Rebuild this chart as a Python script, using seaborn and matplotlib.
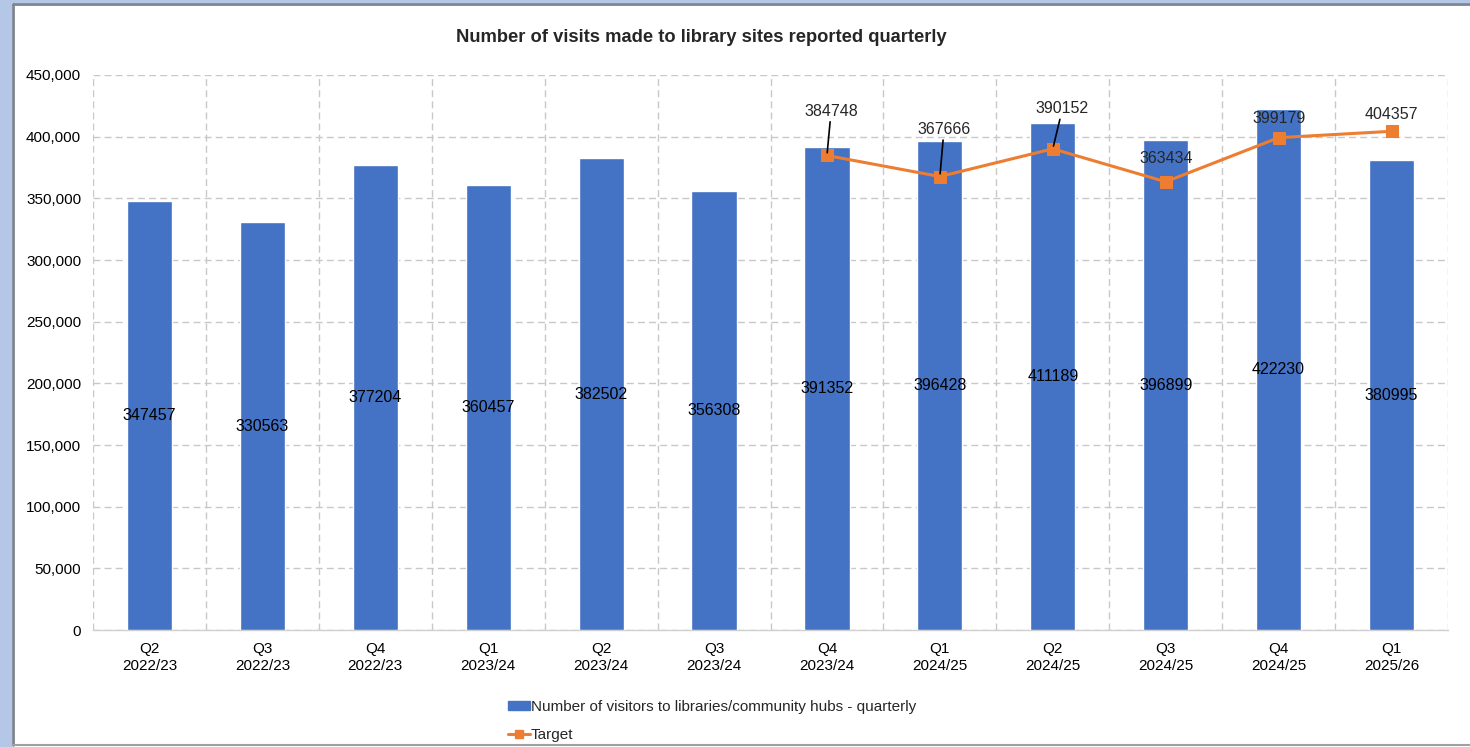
import matplotlib
matplotlib.use("Agg")
import matplotlib.pyplot as plt
from matplotlib.patches import Rectangle, Patch
from matplotlib.lines import Line2D
import seaborn as sns
import pandas as pd

quarters = ["Q2", "Q3", "Q4", "Q1", "Q2", "Q3", "Q4", "Q1", "Q2", "Q3", "Q4", "Q1"]
years = ["2022/23", "2022/23", "2022/23", "2023/24", "2023/24", "2023/24",
         "2023/24", "2024/25", "2024/25", "2024/25", "2024/25", "2025/26"]
visitors = [347457, 330563, 377204, 360457, 382502, 356308,
            391352, 396428, 411189, 396899, 422230, 380995]
target_start = 6
target = [384748, 367666, 390152, 363434, 399179, 404357]
# label offsets (points) for target labels
target_label_dx = [3, 3, 7, 0, 0, 0]
target_label_dy = [32, 34, 29, 17, 14, 12]
target_leader = [True, True, True, False, False, False]

categories = [f"{q}\n{y}" for q, y in zip(quarters, years)]
df = pd.DataFrame({"period": categories, "visitors": visitors})

sns.set_theme(style="white")
plt.rcParams["font.family"] = ["Liberation Sans", "DejaVu Sans"]

fig = plt.figure(figsize=(14.7, 7.47), dpi=100)
ax = fig.add_axes([93 / 1470, 1 - 630 / 747, (1448 - 93) / 1470, (630 - 75) / 747])

bar_col = "#4472C4"
line_col = "#ED7D31"

sns.barplot(data=df, x="period", y="visitors", color=bar_col, width=0.4,
            saturation=1, ax=ax, zorder=2)

ax.bar_label(ax.containers[0], labels=[str(v) for v in visitors],
             label_type="center", fontsize=11.5, color="black")

tx = list(range(target_start, target_start + len(target)))
tdf = pd.DataFrame({"x": tx, "target": target})
sns.lineplot(data=tdf, x="x", y="target", color=line_col, marker="s",
             markersize=8, markeredgecolor=line_col, linewidth=2.2, ax=ax, zorder=3)

for x, v, dx, dy, lead in zip(tx, target, target_label_dx, target_label_dy, target_leader):
    ax.annotate(str(v), xy=(x, v), xytext=(dx, dy), textcoords="offset points",
                ha="center", va="center", fontsize=11.5,
                arrowprops=dict(arrowstyle="-", color="black", lw=1.2,
                                shrinkA=0, shrinkB=2) if lead else None,
                zorder=5)

ax.set_xlim(-0.5, len(categories) - 0.5)
ax.set_ylim(0, 450000)
ax.set_yticks(range(0, 450001, 50000))
ax.yaxis.set_major_formatter(matplotlib.ticker.FuncFormatter(lambda v, p: f"{int(v):,}"))
ax.set_xlabel("")
ax.set_ylabel("")
ax.tick_params(axis="both", labelsize=11, colors="black", length=0)
ax.tick_params(axis="x", pad=9)
ax.tick_params(axis="y", pad=8.5)

ax.set_xticks([i - 0.5 for i in range(len(categories) + 1)], minor=True)
ax.grid(False)
ax.grid(True, which="minor", axis="x", color="#c8c8c8", linestyle=(0, (5, 3)), lw=1, zorder=0)
ax.grid(True, which="major", axis="y", color="#c8c8c8", linestyle=(0, (5, 3)), lw=1, zorder=0)
ax.tick_params(which="minor", length=0)
ax.set_axisbelow(True)
for s in ["top", "right", "left"]:
    ax.spines[s].set_visible(False)
ax.spines["bottom"].set_color("#d0d0d0")
ax.spines["bottom"].set_linewidth(1)
ax.spines["bottom"].set_zorder(1)

fig.text(701 / 1470, 1 - 38 / 747, "Number of visits made to library sites reported quarterly",
         ha="center", va="center", fontsize=13.2, fontweight="bold")

handles = [Patch(facecolor=bar_col, edgecolor=bar_col),
           Line2D([0], [0], color=line_col, marker="s", markersize=6, lw=2.2)]
labels = ["Number of visitors to libraries/community hubs - quarterly", "Target"]
fig.legend(handles, labels, loc="upper left", bbox_to_anchor=(508 / 1470, 1 - 700 / 747),
           frameon=False, fontsize=11, handlelength=1.45, handleheight=0.45,
           handletextpad=0.05, labelspacing=0.9, borderaxespad=0, borderpad=0)

# frame of the screenshot
fig.patches.append(Rectangle((0, 0), 12 / 1470, 1, transform=fig.transFigure,
                             facecolor="#b4c7e7", edgecolor="none", zorder=0))
fig.patches.append(Rectangle((0, 1 - 3 / 747), 1, 3 / 747, transform=fig.transFigure,
                             facecolor="#b4c7e7", edgecolor="none", zorder=0))
fig.lines.append(Line2D([13 / 1470, 13 / 1470], [2 / 747, 1 - 4 / 747], transform=fig.transFigure,
                        color="#7f8590", lw=2))
fig.lines.append(Line2D([13 / 1470, 1], [1 - 4 / 747, 1 - 4 / 747], transform=fig.transFigure,
                        color="#7f8590", lw=2))
fig.lines.append(Line2D([13 / 1470, 1], [2 / 747, 2 / 747], transform=fig.transFigure,
                        color="#a0a0a0", lw=1.5))

fig.savefig("out.png", dpi=100)
